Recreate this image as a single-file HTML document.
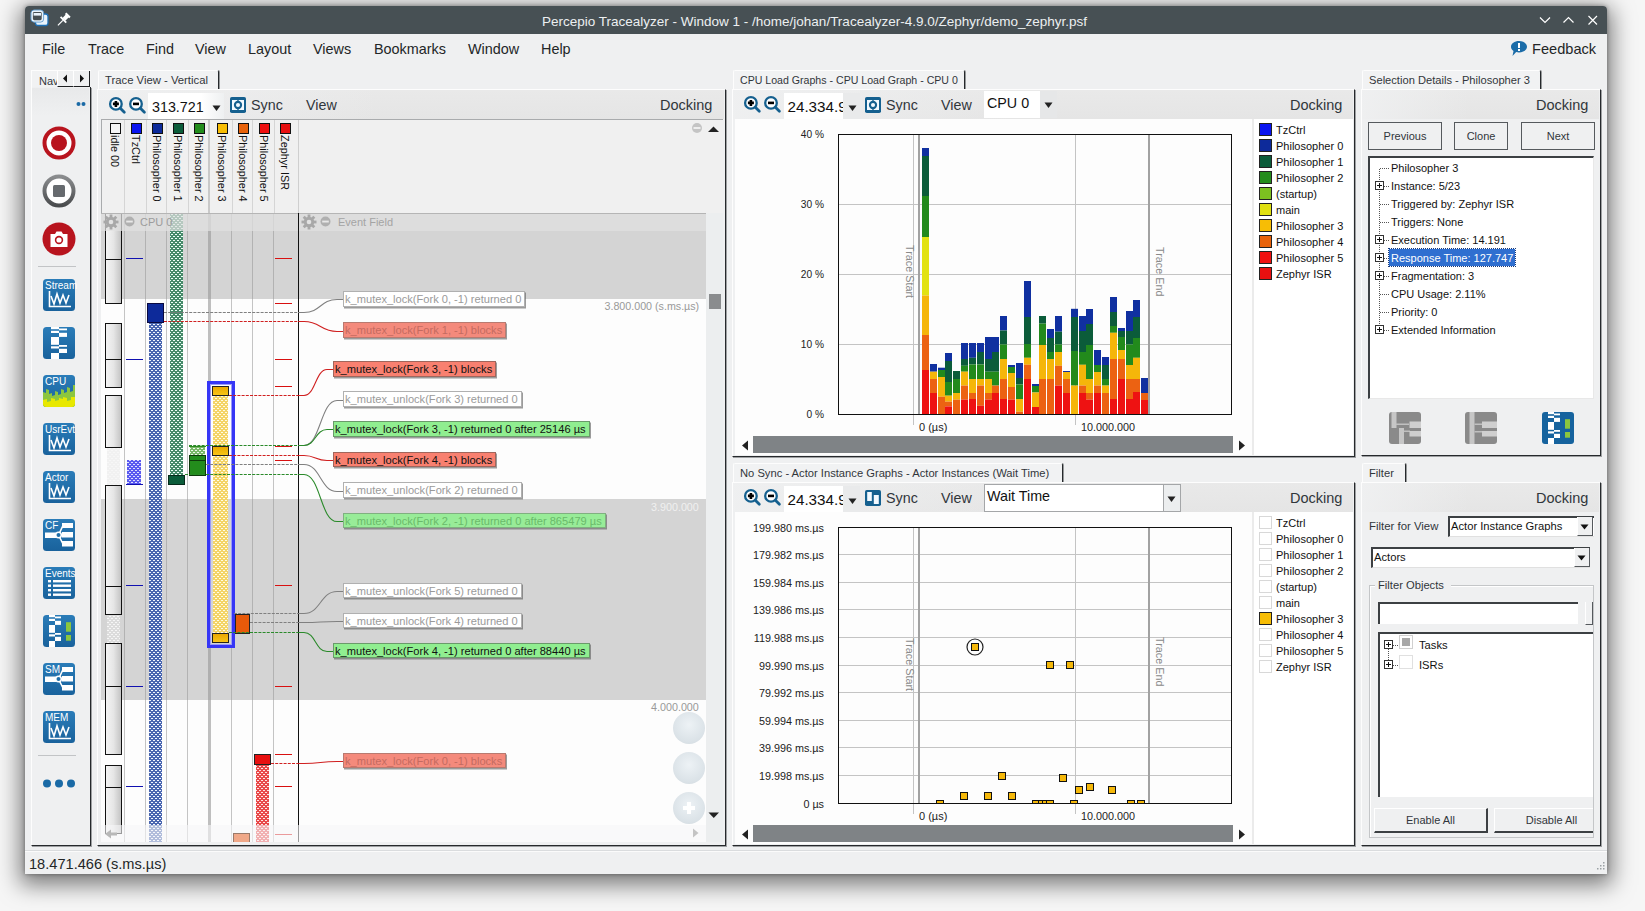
<!DOCTYPE html><html><head><meta charset="utf-8"><style>
*{margin:0;padding:0;box-sizing:border-box}
html,body{width:1645px;height:911px;overflow:hidden}
body{background:#f6f6f6;font-family:"Liberation Sans",sans-serif;position:relative;color:#232627}
.a{position:absolute}
.t{white-space:nowrap;line-height:1}
svg{position:absolute;overflow:visible}
</style></head><body>
<div class="a" style="left:25px;top:6px;width:1582px;height:868px;background:#eff0f1;border-radius:4px 4px 0 0;box-shadow:0 6px 22px 5px rgba(0,0,0,0.5),0 0 4px rgba(0,0,0,0.35)"></div>
<div class="a" style="left:25px;top:6px;width:1582px;height:28px;background:#475054;border-radius:4px 4px 0 0"></div>
<div class="a t" style="left:542px;top:15px;font-size:13.5px;color:#eceff1;">Percepio Tracealyzer - Window 1 - /home/johan/Tracealyzer-4.9.0/Zephyr/demo_zephyr.psf</div>
<svg style="left:30px;top:9px" width="20" height="18" viewBox="0 0 20 18">
<rect x="5.5" y="5" width="12.5" height="11.5" rx="2.5" fill="#eaf4fc" stroke="#1d6fb5" stroke-width="1.3"/>
<rect x="1.8" y="1.8" width="11" height="10.5" rx="2.5" fill="#475054" stroke="#eaf4fc" stroke-width="2.2"/>
<rect x="1" y="1" width="12.6" height="12.1" rx="3" fill="none" stroke="#1d6fb5" stroke-width="0.6"/>
<rect x="3.6" y="4" width="7.4" height="2.6" fill="#eaf4fc"/>
</svg>
<svg style="left:56px;top:12px" width="15" height="15" viewBox="0 0 15 15"><g transform="translate(7.2 8) rotate(45)">
<rect x="-3" y="-7.5" width="6" height="2" fill="#fff"/><rect x="-2" y="-6" width="4" height="5" fill="#fff"/><rect x="-4" y="-1.2" width="8" height="1.8" fill="#fff"/>
<rect x="-0.6" y="0.5" width="1.2" height="7" fill="#fff"/></g></svg>
<svg style="left:1539px;top:15px" width="60" height="11" viewBox="0 0 60 11">
<path d="M1 2.5 L6 7.5 L11 2.5" fill="none" stroke="#fff" stroke-width="1.2"/>
<path d="M24.5 7.5 L29.5 2.5 L34.5 7.5" fill="none" stroke="#fff" stroke-width="1.2"/>
<path d="M49.5 1 L58 9.5 M58 1 L49.5 9.5" fill="none" stroke="#fff" stroke-width="1.2"/>
</svg>
<div class="a t" style="left:42px;top:42px;font-size:14.4px;color:#232627;">File</div>
<div class="a t" style="left:88px;top:42px;font-size:14.4px;color:#232627;">Trace</div>
<div class="a t" style="left:146px;top:42px;font-size:14.4px;color:#232627;">Find</div>
<div class="a t" style="left:195px;top:42px;font-size:14.4px;color:#232627;">View</div>
<div class="a t" style="left:248px;top:42px;font-size:14.4px;color:#232627;">Layout</div>
<div class="a t" style="left:313px;top:42px;font-size:14.4px;color:#232627;">Views</div>
<div class="a t" style="left:374px;top:42px;font-size:14.4px;color:#232627;">Bookmarks</div>
<div class="a t" style="left:468px;top:42px;font-size:14.4px;color:#232627;">Window</div>
<div class="a t" style="left:541px;top:42px;font-size:14.4px;color:#232627;">Help</div>
<svg style="left:1510px;top:40px" width="18" height="17" viewBox="0 0 18 17">
<path d="M9 1 C13.5 1 17 3.5 17 6.8 C17 10 13.5 12.5 9 12.5 C8 12.5 7 12.4 6.2 12.1 L2.5 16 L3.5 11 C1.8 9.9 1 8.4 1 6.8 C1 3.5 4.5 1 9 1 Z" fill="#1b6ca8"/>
<rect x="8" y="3" width="2" height="5" fill="#fff"/><rect x="8" y="9" width="2" height="2" fill="#fff"/>
</svg>
<div class="a t" style="left:1532px;top:42px;font-size:14.6px;color:#232627;">Feedback</div>
<div class="a" style="left:25px;top:850px;width:1582px;height:1px;background:#dadcde"></div>
<div class="a" style="left:25px;top:851px;width:1582px;height:1px;background:#fbfbfb"></div>
<div class="a t" style="left:29px;top:857px;font-size:14.6px;color:#232627;">18.471.466 (s.ms.µs)</div>
<svg style="left:1594px;top:861px" width="12" height="12" viewBox="0 0 12 12" fill="#9aa0a4">
<rect x="9" y="1" width="1.5" height="1.5"/><rect x="6" y="4" width="1.5" height="1.5"/><rect x="9" y="4" width="1.5" height="1.5"/>
<rect x="3" y="7" width="1.5" height="1.5"/><rect x="6" y="7" width="1.5" height="1.5"/><rect x="9" y="7" width="1.5" height="1.5"/>
</svg>
<div class="a" style="left:31px;top:70px;width:60px;height:18px;background:#f1f2f3;border-top:1px solid #fdfdfd;border-left:1px solid #fdfdfd"></div>
<div class="a t" style="left:39px;top:76px;font-size:11px;color:#31363b;">Nav</div>
<div class="a" style="left:57px;top:71px;width:17px;height:16px;background:#eff0f1;border-left:1px solid #fff;border-right:1px solid #1e2022;border-bottom:1px solid #1e2022"></div>
<div class="a" style="left:73px;top:71px;width:17px;height:16px;background:#eff0f1;border-left:1px solid #fff;border-right:1px solid #1e2022;border-bottom:1px solid #1e2022"></div>
<svg style="left:61px;top:74px" width="30" height="10"><path d="M6 0.5 L2 4.5 L6 8.5Z" fill="#111"/><path d="M19 0.5 L23 4.5 L19 8.5Z" fill="#111"/></svg>
<div class="a" style="left:31px;top:87px;width:60px;height:759px;border-left:1px solid #fdfdfd;border-right:1px solid #26292c;border-bottom:1px solid #26292c;box-shadow:1px 1px 0 rgba(60,63,66,0.45);background:#eff0f1"></div>
<div class="a" style="left:32px;top:88px;width:57px;height:28px;background:linear-gradient(#e8e9ea,#eff0f1)"></div>
<div class="a" style="left:98px;top:70px;width:121px;height:19px;background:#f1f2f3;border-top:1px solid #fdfdfd;border-left:1px solid #fdfdfd;border-right:1px solid #26292c;box-shadow:1px 0 0 rgba(60,63,66,0.5);border-radius:2px 2px 0 0"></div>
<div class="a t" style="left:105px;top:75px;font-size:11.3px;color:#31363b;">Trace View - Vertical</div>
<div class="a" style="left:97px;top:89px;width:629px;height:757px;border-top:1px solid #fdfdfd;border-left:1px solid #fdfdfd;border-right:1px solid #26292c;border-bottom:1px solid #26292c;box-shadow:1px 1px 0 rgba(60,63,66,0.45);background:#eff0f1"></div>
<div class="a" style="left:98px;top:90px;width:626px;height:29px;background:linear-gradient(90deg,rgba(240,241,242,0.85),rgba(240,241,242,0) 45%),linear-gradient(#e9e9e9,#e5e5e5)"></div>
<div class="a" style="left:733px;top:70px;width:232px;height:19px;background:#f1f2f3;border-top:1px solid #fdfdfd;border-left:1px solid #fdfdfd;border-right:1px solid #26292c;box-shadow:1px 0 0 rgba(60,63,66,0.5);border-radius:2px 2px 0 0"></div>
<div class="a t" style="left:740px;top:75px;font-size:10.6px;color:#31363b;">CPU Load Graphs - CPU Load Graph - CPU 0</div>
<div class="a" style="left:732px;top:89px;width:623px;height:368px;border-top:1px solid #fdfdfd;border-left:1px solid #fdfdfd;border-right:1px solid #26292c;border-bottom:1px solid #26292c;box-shadow:1px 1px 0 rgba(60,63,66,0.45);background:#eff0f1"></div>
<div class="a" style="left:733px;top:90px;width:620px;height:29px;background:linear-gradient(90deg,rgba(240,241,242,0.85),rgba(240,241,242,0) 45%),linear-gradient(#e9e9e9,#e5e5e5)"></div>
<div class="a" style="left:733px;top:463px;width:330px;height:19px;background:#f1f2f3;border-top:1px solid #fdfdfd;border-left:1px solid #fdfdfd;border-right:1px solid #26292c;box-shadow:1px 0 0 rgba(60,63,66,0.5);border-radius:2px 2px 0 0"></div>
<div class="a t" style="left:740px;top:468px;font-size:11.2px;color:#31363b;">No Sync - Actor Instance Graphs - Actor Instances (Wait Time)</div>
<div class="a" style="left:732px;top:482px;width:623px;height:364px;border-top:1px solid #fdfdfd;border-left:1px solid #fdfdfd;border-right:1px solid #26292c;border-bottom:1px solid #26292c;box-shadow:1px 1px 0 rgba(60,63,66,0.45);background:#eff0f1"></div>
<div class="a" style="left:733px;top:483px;width:620px;height:29px;background:linear-gradient(90deg,rgba(240,241,242,0.85),rgba(240,241,242,0) 45%),linear-gradient(#e9e9e9,#e5e5e5)"></div>
<div class="a" style="left:1362px;top:70px;width:179px;height:19px;background:#f1f2f3;border-top:1px solid #fdfdfd;border-left:1px solid #fdfdfd;border-right:1px solid #26292c;box-shadow:1px 0 0 rgba(60,63,66,0.5);border-radius:2px 2px 0 0"></div>
<div class="a t" style="left:1369px;top:75px;font-size:11.15px;color:#31363b;">Selection Details - Philosopher 3</div>
<div class="a" style="left:1361px;top:89px;width:240px;height:367px;border-top:1px solid #fdfdfd;border-left:1px solid #fdfdfd;border-right:1px solid #26292c;border-bottom:1px solid #26292c;box-shadow:1px 1px 0 rgba(60,63,66,0.45);background:#eff0f1"></div>
<div class="a" style="left:1362px;top:90px;width:237px;height:29px;background:linear-gradient(90deg,rgba(240,241,242,0.85),rgba(240,241,242,0) 45%),linear-gradient(#e9e9e9,#e5e5e5)"></div>
<div class="a" style="left:1362px;top:463px;width:44px;height:19px;background:#f1f2f3;border-top:1px solid #fdfdfd;border-left:1px solid #fdfdfd;border-right:1px solid #26292c;box-shadow:1px 0 0 rgba(60,63,66,0.5);border-radius:2px 2px 0 0"></div>
<div class="a t" style="left:1369px;top:468px;font-size:11.2px;color:#31363b;">Filter</div>
<div class="a" style="left:1361px;top:482px;width:240px;height:364px;border-top:1px solid #fdfdfd;border-left:1px solid #fdfdfd;border-right:1px solid #26292c;border-bottom:1px solid #26292c;box-shadow:1px 1px 0 rgba(60,63,66,0.45);background:#eff0f1"></div>
<div class="a" style="left:1362px;top:483px;width:237px;height:29px;background:linear-gradient(90deg,rgba(240,241,242,0.85),rgba(240,241,242,0) 45%),linear-gradient(#e9e9e9,#e5e5e5)"></div>
<div class="a t" style="left:660px;top:98px;font-size:14.5px;color:#31363b;">Docking</div>
<div class="a t" style="left:1290px;top:98px;font-size:14.5px;color:#31363b;">Docking</div>
<div class="a t" style="left:1536px;top:98px;font-size:14.5px;color:#31363b;">Docking</div>
<div class="a t" style="left:1290px;top:491px;font-size:14.5px;color:#31363b;">Docking</div>
<div class="a t" style="left:1536px;top:491px;font-size:14.5px;color:#31363b;">Docking</div>
<svg style="left:109px;top:97px" width="40" height="18" viewBox="0 0 40 18">
<circle cx="6.9" cy="6.9" r="5.8" fill="#fff" stroke="#15608f" stroke-width="2.3"/><path d="M11.3 11.3 L15.3 15.3" stroke="#15608f" stroke-width="2.8" stroke-linecap="round"/>
<path d="M3.9 6.9 H9.9 M6.9 3.9 V9.9" stroke="#000" stroke-width="2.6"/>
<circle cx="27" cy="6.9" r="5.8" fill="#fff" stroke="#15608f" stroke-width="2.3"/><path d="M31.4 11.3 L35.4 15.3" stroke="#15608f" stroke-width="2.8" stroke-linecap="round"/>
<path d="M24 6.9 H30" stroke="#000" stroke-width="2.6"/>
</svg>
<div class="a" style="left:148px;top:93px;width:76px;height:26px;background:linear-gradient(90deg,#fff 0%,#fff 70%,#eef0f1 100%)"></div>
<div class="a t" style="left:152px;top:100px;font-size:14.3px;color:#111;">313.721</div>
<svg style="left:212px;top:105px" width="9" height="6"><path d="M0.5 0.5 H8.5 L4.5 6Z" fill="#222"/></svg>
<svg style="left:230px;top:97px" width="16" height="16" viewBox="0 0 16 16"><rect x="0" y="0" width="16" height="16" rx="1.8" fill="#15608f"/>
<rect x="2" y="3" width="12" height="10" fill="#f2f9ff"/><path d="M8 3 V13" stroke="#15608f" stroke-width="1.3"/><circle cx="8" cy="8" r="3.1" fill="#f2f9ff" stroke="#15608f" stroke-width="2.1"/></svg>
<div class="a t" style="left:251px;top:98px;font-size:14.3px;color:#31363b;">Sync</div>
<div class="a t" style="left:306px;top:98px;font-size:14.3px;color:#31363b;">View</div>
<div class="a" style="left:101px;top:119px;width:622px;height:94px;background:#f0f0f0;border-top:1px solid #a9abad;border-left:1px solid #a9abad"></div>
<div class="a" style="left:124px;top:120px;width:1px;height:93px;background:#d5d5d5"></div>
<div class="a" style="left:146px;top:120px;width:1px;height:93px;background:#d5d5d5"></div>
<div class="a" style="left:166px;top:120px;width:1px;height:93px;background:#d5d5d5"></div>
<div class="a" style="left:188px;top:120px;width:1px;height:93px;background:#d5d5d5"></div>
<div class="a" style="left:232px;top:120px;width:1px;height:93px;background:#d5d5d5"></div>
<div class="a" style="left:252px;top:120px;width:1px;height:93px;background:#d5d5d5"></div>
<div class="a" style="left:274px;top:120px;width:1px;height:93px;background:#d5d5d5"></div>
<div class="a" style="left:208px;top:120px;width:2px;height:93px;background:#c9c9c9"></div>
<div class="a" style="left:298px;top:120px;width:1px;height:93px;background:#cfcfcf"></div>
<div class="a" style="left:110px;top:123px;width:11px;height:11px;background:#f6f6f6;border:1px solid #111"></div>
<div class="a t" style="left:121px;top:135px;font-size:10.9px;margin-left:-1px;color:#111;transform-origin:0 0;transform:rotate(90deg)">idle 00</div>
<div class="a" style="left:131px;top:123px;width:11px;height:11px;background:#0a14f0;border:1px solid #111"></div>
<div class="a t" style="left:142px;top:135px;font-size:10.9px;margin-left:-1px;color:#111;transform-origin:0 0;transform:rotate(90deg)">TzCtrl</div>
<div class="a" style="left:152px;top:123px;width:11px;height:11px;background:#0d2a9a;border:1px solid #111"></div>
<div class="a t" style="left:163px;top:135px;font-size:10.9px;margin-left:-1px;color:#111;transform-origin:0 0;transform:rotate(90deg)">Philosopher 0</div>
<div class="a" style="left:173px;top:123px;width:11px;height:11px;background:#0b5c3a;border:1px solid #111"></div>
<div class="a t" style="left:184px;top:135px;font-size:10.9px;margin-left:-1px;color:#111;transform-origin:0 0;transform:rotate(90deg)">Philosopher 1</div>
<div class="a" style="left:194px;top:123px;width:11px;height:11px;background:#238c1c;border:1px solid #111"></div>
<div class="a t" style="left:205px;top:135px;font-size:10.9px;margin-left:-1px;color:#111;transform-origin:0 0;transform:rotate(90deg)">Philosopher 2</div>
<div class="a" style="left:217px;top:123px;width:11px;height:11px;background:#f7bd05;border:1px solid #111"></div>
<div class="a t" style="left:228px;top:135px;font-size:10.9px;margin-left:-1px;color:#111;transform-origin:0 0;transform:rotate(90deg)">Philosopher 3</div>
<div class="a" style="left:238px;top:123px;width:11px;height:11px;background:#e8620a;border:1px solid #111"></div>
<div class="a t" style="left:249px;top:135px;font-size:10.9px;margin-left:-1px;color:#111;transform-origin:0 0;transform:rotate(90deg)">Philosopher 4</div>
<div class="a" style="left:259px;top:123px;width:11px;height:11px;background:#f01010;border:1px solid #111"></div>
<div class="a t" style="left:270px;top:135px;font-size:10.9px;margin-left:-1px;color:#111;transform-origin:0 0;transform:rotate(90deg)">Philosopher 5</div>
<div class="a" style="left:280px;top:123px;width:11px;height:11px;background:#e81010;border:1px solid #111"></div>
<div class="a t" style="left:291px;top:135px;font-size:10.9px;margin-left:-1px;color:#111;transform-origin:0 0;transform:rotate(90deg)">Zephyr ISR</div>
<svg style="left:691px;top:122px" width="30" height="12"><circle cx="6" cy="6" r="5" fill="#c4c4c4"/><rect x="2.5" y="5" width="7" height="2" fill="#eee"/><path d="M17 10 L22.5 4.5 L28 10Z" fill="#222"/></svg>
<div class="a" style="left:101px;top:213px;width:605px;height:629px;background:#fdfdfd"></div>
<div class="a" style="left:101px;top:213px;width:605px;height:86px;background:#d4d4d4"></div>
<div class="a" style="left:101px;top:499px;width:605px;height:201px;background:#d4d4d4"></div>
<div class="a" style="left:124px;top:213px;width:1px;height:629px;background:rgba(150,150,150,0.55)"></div>
<div class="a" style="left:145px;top:213px;width:1px;height:629px;background:rgba(150,150,150,0.55)"></div>
<div class="a" style="left:166px;top:213px;width:1px;height:629px;background:rgba(150,150,150,0.55)"></div>
<div class="a" style="left:187px;top:213px;width:1px;height:629px;background:rgba(150,150,150,0.55)"></div>
<div class="a" style="left:231px;top:213px;width:1px;height:629px;background:rgba(150,150,150,0.55)"></div>
<div class="a" style="left:252px;top:213px;width:1px;height:629px;background:rgba(150,150,150,0.55)"></div>
<div class="a" style="left:273px;top:213px;width:1px;height:629px;background:rgba(150,150,150,0.55)"></div>
<div class="a" style="left:208px;top:213px;width:3px;height:629px;background:rgba(150,150,150,0.6)"></div>
<div class="a" style="left:298px;top:213px;width:1px;height:629px;background:#111"></div>
<svg style="left:0;top:0" width="720" height="850"><defs><pattern id="p0" width="4" height="4" patternUnits="userSpaceOnUse"><rect width="4" height="4" fill="#f1f1f1"/><rect x="1" y="0" width="2" height="1" fill="#f7f7f7"/><rect x="3" y="2" width="2" height="1" fill="#f7f7f7"/><rect x="-1" y="2" width="2" height="1" fill="#f7f7f7"/></pattern><pattern id="p1" width="4" height="4" patternUnits="userSpaceOnUse"><rect width="4" height="4" fill="#dcdcdc"/><rect x="1" y="0" width="2" height="1" fill="#f6f6f6"/><rect x="3" y="2" width="2" height="1" fill="#f6f6f6"/><rect x="-1" y="2" width="2" height="1" fill="#f6f6f6"/></pattern><pattern id="p2" width="4" height="4" patternUnits="userSpaceOnUse"><rect width="4" height="4" fill="#5a5af0"/><rect x="1" y="0" width="2" height="1" fill="#e0e0ff"/><rect x="3" y="2" width="2" height="1" fill="#e0e0ff"/><rect x="-1" y="2" width="2" height="1" fill="#e0e0ff"/></pattern><pattern id="p3" width="4" height="4" patternUnits="userSpaceOnUse"><rect width="4" height="4" fill="#4a66b0"/><rect x="1" y="0" width="2" height="1" fill="#f4f8ff"/><rect x="3" y="2" width="2" height="1" fill="#f4f8ff"/><rect x="-1" y="2" width="2" height="1" fill="#f4f8ff"/></pattern><pattern id="p4" width="4" height="4" patternUnits="userSpaceOnUse"><rect width="4" height="4" fill="#468a6a"/><rect x="1" y="0" width="2" height="1" fill="#eefff8"/><rect x="3" y="2" width="2" height="1" fill="#eefff8"/><rect x="-1" y="2" width="2" height="1" fill="#eefff8"/></pattern><pattern id="p5" width="4" height="4" patternUnits="userSpaceOnUse"><rect width="4" height="4" fill="#78b868"/><rect x="1" y="0" width="2" height="1" fill="#eef8ea"/><rect x="3" y="2" width="2" height="1" fill="#eef8ea"/><rect x="-1" y="2" width="2" height="1" fill="#eef8ea"/></pattern><pattern id="p6" width="4" height="4" patternUnits="userSpaceOnUse"><rect width="4" height="4" fill="#f4d466"/><rect x="1" y="0" width="2" height="1" fill="#fffbe4"/><rect x="3" y="2" width="2" height="1" fill="#fffbe4"/><rect x="-1" y="2" width="2" height="1" fill="#fffbe4"/></pattern><pattern id="p7" width="4" height="4" patternUnits="userSpaceOnUse"><rect width="4" height="4" fill="#e84848"/><rect x="1" y="0" width="2" height="1" fill="#ffe4e4"/><rect x="3" y="2" width="2" height="1" fill="#ffe4e4"/><rect x="-1" y="2" width="2" height="1" fill="#ffe4e4"/></pattern></defs><rect x="107" y="447" width="13" height="38" fill="url(#p0)"/><rect x="107" y="614" width="13" height="29" fill="url(#p1)"/><rect x="127" y="460" width="14" height="24" fill="url(#p2)"/><rect x="149" y="323" width="13" height="519" fill="url(#p3)"/><rect x="170" y="213" width="13" height="262" fill="url(#p4)"/><rect x="190" y="447" width="15" height="8" fill="url(#p5)"/><rect x="213" y="396" width="15" height="237" fill="url(#p6)"/><rect x="256" y="765" width="13" height="77" fill="url(#p7)"/></svg>
<div class="a" style="left:105px;top:213px;width:17px;height:47px;border:1.5px solid #111;background:linear-gradient(90deg,#f4f4f4,#e6e6e6 50%,#c4c4c4);border-top:none"></div>
<div class="a" style="left:105px;top:259px;width:17px;height:45px;border:1.5px solid #111;background:linear-gradient(90deg,#f4f4f4,#e6e6e6 50%,#c4c4c4)"></div>
<div class="a" style="left:105px;top:323px;width:17px;height:37px;border:1.5px solid #111;background:linear-gradient(90deg,#f4f4f4,#e6e6e6 50%,#c4c4c4)"></div>
<div class="a" style="left:105px;top:359px;width:17px;height:29px;border:1.5px solid #111;background:linear-gradient(90deg,#f4f4f4,#e6e6e6 50%,#c4c4c4)"></div>
<div class="a" style="left:105px;top:395px;width:17px;height:53px;border:1.5px solid #111;background:linear-gradient(90deg,#f4f4f4,#e6e6e6 50%,#c4c4c4)"></div>
<div class="a" style="left:105px;top:485px;width:17px;height:102px;border:1.5px solid #111;background:linear-gradient(90deg,#f4f4f4,#e6e6e6 50%,#c4c4c4)"></div>
<div class="a" style="left:105px;top:586px;width:17px;height:29px;border:1.5px solid #111;background:linear-gradient(90deg,#f4f4f4,#e6e6e6 50%,#c4c4c4)"></div>
<div class="a" style="left:105px;top:643px;width:17px;height:44px;border:1.5px solid #111;background:linear-gradient(90deg,#f4f4f4,#e6e6e6 50%,#c4c4c4)"></div>
<div class="a" style="left:105px;top:686px;width:17px;height:69px;border:1.5px solid #111;background:linear-gradient(90deg,#f4f4f4,#e6e6e6 50%,#c4c4c4)"></div>
<div class="a" style="left:105px;top:765px;width:17px;height:23px;border:1.5px solid #111;background:linear-gradient(90deg,#f4f4f4,#e6e6e6 50%,#c4c4c4)"></div>
<div class="a" style="left:105px;top:787px;width:17px;height:47px;border:1.5px solid #111;background:linear-gradient(90deg,#f4f4f4,#e6e6e6 50%,#c4c4c4)"></div>
<div class="a" style="left:126px;top:258px;width:17px;height:1px;background:#1010b0"></div>
<div class="a" style="left:126px;top:359px;width:17px;height:1px;background:#1010b0"></div>
<div class="a" style="left:126px;top:585px;width:17px;height:1px;background:#1010b0"></div>
<div class="a" style="left:126px;top:686px;width:17px;height:1px;background:#1010b0"></div>
<div class="a" style="left:126px;top:786px;width:17px;height:1px;background:#1010b0"></div>
<div class="a" style="left:126px;top:484px;width:17px;height:1px;background:#1010b0"></div>
<div class="a" style="left:147px;top:303px;width:17px;height:20px;background:#0d2a9a;border:1px solid #0a0a40"></div>
<div class="a" style="left:168px;top:475px;width:17px;height:10px;background:#0b5c3a;border:1px solid #062a1a"></div>
<div class="a" style="left:189px;top:446px;width:17px;height:1px;background:#2a8a1e"></div>
<div class="a" style="left:189px;top:455px;width:17px;height:21px;background:#238c1c;border:1px solid #0d3a0a"></div>
<div class="a" style="left:189px;top:460px;width:17px;height:1px;background:#0d3a0a"></div>
<div class="a" style="left:207px;top:381px;width:28px;height:267px;border:3px solid #3636f6;background:transparent;box-shadow:inset 0 0 0 1px #9a9af8"></div>
<div class="a" style="left:212px;top:386px;width:17px;height:10px;background:linear-gradient(#eaa800,#f8c418);border:1px solid #222"></div>
<div class="a" style="left:212px;top:446px;width:17px;height:10px;background:linear-gradient(#eaa800,#f8c418);border:1px solid #222"></div>
<div class="a" style="left:212px;top:633px;width:17px;height:10px;background:linear-gradient(#eaa800,#f8c418);border:1px solid #222"></div>
<div class="a" style="left:235px;top:614px;width:15px;height:20px;background:#e85a0a;border:1px solid #222"></div>
<div class="a" style="left:254px;top:754px;width:17px;height:11px;background:#e81010;border:1px solid #222"></div>
<div class="a" style="left:275px;top:258px;width:17px;height:1px;background:#d81010"></div>
<div class="a" style="left:275px;top:303px;width:17px;height:1px;background:#d81010"></div>
<div class="a" style="left:275px;top:359px;width:17px;height:1px;background:#d81010"></div>
<div class="a" style="left:275px;top:386px;width:17px;height:1px;background:#d81010"></div>
<div class="a" style="left:275px;top:446px;width:17px;height:1px;background:#d81010"></div>
<div class="a" style="left:275px;top:460px;width:17px;height:1px;background:#d81010"></div>
<div class="a" style="left:275px;top:585px;width:17px;height:1px;background:#d81010"></div>
<div class="a" style="left:275px;top:686px;width:17px;height:1px;background:#d81010"></div>
<div class="a" style="left:275px;top:754px;width:17px;height:1px;background:#d81010"></div>
<div class="a" style="left:275px;top:786px;width:17px;height:1px;background:#d81010"></div>
<div class="a" style="left:275px;top:834px;width:17px;height:1px;background:#d81010"></div>
<div class="a" style="left:101px;top:213px;width:605px;height:18px;background:rgba(225,225,225,0.72);border-top:1px solid #b5b5b5"></div>
<div class="a" style="left:298px;top:213px;width:1px;height:18px;background:#111"></div>
<svg style="left:103px;top:214px" width="16" height="16" viewBox="0 0 16 16"><g fill="#a8a8a8">
<circle cx="8" cy="8" r="5.2"/><rect x="6.6" y="0.5" width="2.8" height="15"/><rect x="0.5" y="6.6" width="15" height="2.8"/>
<rect x="6.6" y="0.5" width="2.8" height="15" transform="rotate(45 8 8)"/><rect x="6.6" y="0.5" width="2.8" height="15" transform="rotate(-45 8 8)"/></g>
<circle cx="8" cy="8" r="2.3" fill="#e2e2e2"/></svg>
<svg style="left:124px;top:216px" width="11" height="11"><circle cx="5.5" cy="5.5" r="5" fill="#b0b0b0"/><rect x="2.2" y="4.6" width="6.6" height="1.9" fill="#e8e8e8"/></svg>
<div class="a t" style="left:140px;top:217px;font-size:11px;color:#9c9c9c;">CPU 0</div>
<svg style="left:301px;top:214px" width="16" height="16" viewBox="0 0 16 16"><g fill="#a8a8a8">
<circle cx="8" cy="8" r="5.2"/><rect x="6.6" y="0.5" width="2.8" height="15"/><rect x="0.5" y="6.6" width="15" height="2.8"/>
<rect x="6.6" y="0.5" width="2.8" height="15" transform="rotate(45 8 8)"/><rect x="6.6" y="0.5" width="2.8" height="15" transform="rotate(-45 8 8)"/></g>
<circle cx="8" cy="8" r="2.3" fill="#e2e2e2"/></svg>
<svg style="left:320px;top:216px" width="11" height="11"><circle cx="5.5" cy="5.5" r="5" fill="#b0b0b0"/><rect x="2.2" y="4.6" width="6.6" height="1.9" fill="#e8e8e8"/></svg>
<div class="a t" style="left:338px;top:217px;font-size:11px;color:#a4a4a4;">Event Field</div>
<div class="a t" style="left:604.5px;top:301px;font-size:10.7px;color:#999;">3.800.000 (s.ms.µs)</div>
<div class="a t" style="left:651px;top:501.5px;font-size:10.75px;color:#f0f0f0;">3.900.000</div>
<div class="a t" style="left:651px;top:702px;font-size:10.75px;color:#999;">4.000.000</div>
<svg style="left:0;top:0" width="720" height="850" viewBox="0 0 720 850"><path d="M164 312.5 H298" stroke="#808080" stroke-width="1" stroke-dasharray="3 1.2" fill="none"/><path d="M298 312.5 H304 C320.5 312.5 320.5 299.5 337 299.5 H343" stroke="#808080" stroke-width="1.1" fill="none"/><path d="M164 321.5 H298" stroke="#d02020" stroke-width="1" stroke-dasharray="3 1.2" fill="none"/><path d="M298 321.5 H304 C320.5 321.5 320.5 331.5 337 331.5 H343" stroke="#d02020" stroke-width="1.1" fill="none"/><path d="M229 395.5 H298" stroke="#d02020" stroke-width="1" stroke-dasharray="3 1.2" fill="none"/><path d="M298 395.5 H304 C315.5 395.5 315.5 369.5 327 369.5 H333" stroke="#d02020" stroke-width="1.1" fill="none"/><path d="M298 445.5 H304 C320.5 445.5 320.5 400.5 337 400.5 H343" stroke="#808080" stroke-width="1.1" fill="none"/><path d="M189 445.5 H298" stroke="#2a8a2a" stroke-width="1" stroke-dasharray="3 1.2" fill="none"/><path d="M298 445.5 H304 C315.5 445.5 315.5 429.5 327 429.5 H333" stroke="#2a8a2a" stroke-width="1.1" fill="none"/><path d="M229 455.5 H298" stroke="#d02020" stroke-width="1" stroke-dasharray="3 1.2" fill="none"/><path d="M298 455.5 H304 C315.5 455.5 315.5 460.5 327 460.5 H333" stroke="#d02020" stroke-width="1.1" fill="none"/><path d="M206 464.5 H298" stroke="#808080" stroke-width="1" stroke-dasharray="3 1.2" fill="none"/><path d="M298 464.5 H304 C320.5 464.5 320.5 491.5 337 491.5 H343" stroke="#808080" stroke-width="1.1" fill="none"/><path d="M185 474.5 H298" stroke="#2a8a2a" stroke-width="1" stroke-dasharray="3 1.2" fill="none"/><path d="M298 474.5 H304 C320.5 474.5 320.5 521.5 337 521.5 H343" stroke="#2a8a2a" stroke-width="1.1" fill="none"/><path d="M234 613.5 H298" stroke="#808080" stroke-width="1" stroke-dasharray="3 1.2" fill="none"/><path d="M298 613.5 H304 C320.5 613.5 320.5 591.5 337 591.5 H343" stroke="#808080" stroke-width="1.1" fill="none"/><path d="M250 622.5 H298" stroke="#808080" stroke-width="1" stroke-dasharray="3 1.2" fill="none"/><path d="M298 622.5 H304 C320.5 622.5 320.5 621.5 337 621.5 H343" stroke="#808080" stroke-width="1.1" fill="none"/><path d="M229 632.5 H298" stroke="#2a8a2a" stroke-width="1" stroke-dasharray="3 1.2" fill="none"/><path d="M298 632.5 H304 C315.5 632.5 315.5 651.5 327 651.5 H333" stroke="#2a8a2a" stroke-width="1.1" fill="none"/><path d="M271 763.5 H298" stroke="#d02020" stroke-width="1" stroke-dasharray="3 1.2" fill="none"/><path d="M298 763.5 H304 C320.5 763.5 320.5 761.5 337 761.5 H343" stroke="#d02020" stroke-width="1.1" fill="none"/></svg>
<div class="a t" style="left:342.5px;top:291px;height:15.5px;padding:2px 3px 0 1.5px;font-size:11.1px;background:#ffffff;color:#9a9a9a;border:1px solid #b0b0b0;box-shadow:1px 1.5px 0 rgba(90,90,90,0.6)">k_mutex_lock(Fork 0, -1) returned 0</div>
<div class="a t" style="left:342.5px;top:322px;height:15.5px;padding:2px 3px 0 1.5px;font-size:11.1px;background:#f48a7c;color:#c46a60;border:1px solid #b87a70;box-shadow:1px 1.5px 0 rgba(90,90,90,0.6)">k_mutex_lock(Fork 1, -1) blocks</div>
<div class="a t" style="left:332.5px;top:361px;height:15.5px;padding:2px 3px 0 1.5px;font-size:11.1px;background:#f88070;color:#111111;border:1px solid #a0665c;box-shadow:1px 1.5px 0 rgba(90,90,90,0.6)">k_mutex_lock(Fork 3, -1) blocks</div>
<div class="a t" style="left:342.5px;top:391px;height:15.5px;padding:2px 3px 0 1.5px;font-size:11.1px;background:#ffffff;color:#9a9a9a;border:1px solid #b0b0b0;box-shadow:1px 1.5px 0 rgba(90,90,90,0.6)">k_mutex_unlock(Fork 3) returned 0</div>
<div class="a t" style="left:332.5px;top:421px;height:15.5px;padding:2px 3px 0 1.5px;font-size:11.1px;background:#90ee90;color:#111111;border:1px solid #6a9a6a;box-shadow:1px 1.5px 0 rgba(90,90,90,0.6)">k_mutex_lock(Fork 3, -1) returned 0 after 25146 µs</div>
<div class="a t" style="left:332.5px;top:451.5px;height:15.5px;padding:2px 3px 0 1.5px;font-size:11.1px;background:#f88070;color:#111111;border:1px solid #a0665c;box-shadow:1px 1.5px 0 rgba(90,90,90,0.6)">k_mutex_lock(Fork 4, -1) blocks</div>
<div class="a t" style="left:342.5px;top:482px;height:15.5px;padding:2px 3px 0 1.5px;font-size:11.1px;background:#ffffff;color:#9a9a9a;border:1px solid #b0b0b0;box-shadow:1px 1.5px 0 rgba(90,90,90,0.6)">k_mutex_unlock(Fork 2) returned 0</div>
<div class="a t" style="left:342.5px;top:512.5px;height:15.5px;padding:2px 3px 0 1.5px;font-size:11.1px;background:#98ec98;color:#6aba6a;border:1px solid #80b080;box-shadow:1px 1.5px 0 rgba(90,90,90,0.6)">k_mutex_lock(Fork 2, -1) returned 0 after 865479 µs</div>
<div class="a t" style="left:342.5px;top:582.5px;height:15.5px;padding:2px 3px 0 1.5px;font-size:11.1px;background:#ffffff;color:#9a9a9a;border:1px solid #b0b0b0;box-shadow:1px 1.5px 0 rgba(90,90,90,0.6)">k_mutex_unlock(Fork 5) returned 0</div>
<div class="a t" style="left:342.5px;top:612.5px;height:15.5px;padding:2px 3px 0 1.5px;font-size:11.1px;background:#ffffff;color:#9a9a9a;border:1px solid #b0b0b0;box-shadow:1px 1.5px 0 rgba(90,90,90,0.6)">k_mutex_unlock(Fork 4) returned 0</div>
<div class="a t" style="left:332.5px;top:642.5px;height:15.5px;padding:2px 3px 0 1.5px;font-size:11.1px;background:#90ee90;color:#111111;border:1px solid #6a9a6a;box-shadow:1px 1.5px 0 rgba(90,90,90,0.6)">k_mutex_lock(Fork 4, -1) returned 0 after 88440 µs</div>
<div class="a t" style="left:342.5px;top:752.5px;height:15.5px;padding:2px 3px 0 1.5px;font-size:11.1px;background:#f48a7c;color:#c46a60;border:1px solid #b87a70;box-shadow:1px 1.5px 0 rgba(90,90,90,0.6)">k_mutex_lock(Fork 0, -1) blocks</div>
<div class="a" style="left:706px;top:213px;width:17px;height:629px;background:#eceeef"></div>
<div class="a" style="left:709px;top:294px;width:12px;height:15px;background:#8a8c8e"></div>
<div class="a" style="left:101px;top:825px;width:605px;height:17px;background:rgba(246,247,248,0.6)"></div>
<div class="a" style="left:233px;top:833px;width:17px;height:9px;background:#f0a888;border:1px solid #9a7a6a;border-bottom:none"></div>
<svg style="left:104px;top:828px" width="14" height="12"><path d="M1 6 L7 1.5 L7 4.5 L13 4.5 L13 7.5 L7 7.5 L7 10.5Z" fill="#b8b8b8"/></svg>
<svg style="left:692px;top:828px" width="8" height="10"><path d="M1 0.5 L6.5 5 L1 9.5Z" fill="#c4c4c4"/></svg>
<svg style="left:708px;top:812px" width="12" height="7"><path d="M0.5 0.5 H11 L5.75 6Z" fill="#222"/></svg>
<div class="a" style="left:673px;top:712px;width:32px;height:32px;border-radius:50%;background:radial-gradient(circle at 50% 40%,#eaf0f4,#d4dde3 70%,#c6ced4);opacity:0.85"></div>
<div class="a" style="left:673px;top:752px;width:32px;height:32px;border-radius:50%;background:radial-gradient(circle at 50% 40%,#eaf0f4,#d4dde3 70%,#c6ced4);opacity:0.85"></div>
<div class="a" style="left:673px;top:792px;width:32px;height:32px;border-radius:50%;background:radial-gradient(circle at 50% 40%,#eaf0f4,#d4dde3 70%,#c6ced4);opacity:0.85"></div>
<svg style="left:681px;top:800px" width="16" height="16"><path d="M8 2 V14 M2 8 H14" stroke="#fff" stroke-width="4"/></svg>
<svg style="left:744px;top:96px" width="40" height="18" viewBox="0 0 40 18">
<circle cx="6.9" cy="6.9" r="5.8" fill="#fff" stroke="#15608f" stroke-width="2.3"/><path d="M11.3 11.3 L15.3 15.3" stroke="#15608f" stroke-width="2.8" stroke-linecap="round"/>
<path d="M3.9 6.9 H9.9 M6.9 3.9 V9.9" stroke="#000" stroke-width="2.6"/>
<circle cx="27" cy="6.9" r="5.8" fill="#fff" stroke="#15608f" stroke-width="2.3"/><path d="M31.4 11.3 L35.4 15.3" stroke="#15608f" stroke-width="2.8" stroke-linecap="round"/>
<path d="M24 6.9 H30" stroke="#000" stroke-width="2.6"/>
</svg>
<div class="a" style="left:784px;top:93px;width:76px;height:26px;background:#e9eaeb"></div>
<div class="a t" style="left:784px;top:93px;width:59px;height:26px;background:#fff;overflow:hidden;font-size:15.2px;color:#111;padding:5.5px 0 0 3.5px">24.334.9</div>
<svg style="left:848px;top:105px" width="9" height="6"><path d="M0.5 0.5 H8.5 L4.5 6Z" fill="#222"/></svg>
<svg style="left:865px;top:97px" width="16" height="16" viewBox="0 0 16 16"><rect x="0" y="0" width="16" height="16" rx="1.8" fill="#15608f"/>
<rect x="2" y="3" width="12" height="10" fill="#f2f9ff"/><path d="M8 3 V13" stroke="#15608f" stroke-width="1.3"/><circle cx="8" cy="8" r="3.1" fill="#f2f9ff" stroke="#15608f" stroke-width="2.1"/></svg>
<div class="a t" style="left:886px;top:98px;font-size:14.3px;color:#31363b;">Sync</div>
<div class="a t" style="left:941px;top:98px;font-size:14.3px;color:#31363b;">View</div>
<div class="a" style="left:984px;top:91px;width:56px;height:27px;background:#fff"></div>
<div class="a" style="left:1040px;top:91px;width:17px;height:27px;background:#e6e7e8"></div>
<div class="a t" style="left:987px;top:96px;font-size:14.3px;color:#111;">CPU 0</div>
<svg style="left:1044px;top:102px" width="9" height="6"><path d="M0.5 0.5 H8.5 L4.5 6Z" fill="#222"/></svg>
<div class="a" style="left:735px;top:119px;width:618px;height:336px;background:#fdfdfd"></div>
<div class="a" style="left:1252px;top:119px;width:101px;height:336px;background:#fff;border-left:2px solid #ebebeb"></div>
<div class="a" style="left:1259px;top:123px;width:13px;height:13px;background:#0a14f0;border:1px solid #222"></div>
<div class="a t" style="left:1276px;top:124.5px;font-size:11px;color:#111;">TzCtrl</div>
<div class="a" style="left:1259px;top:139px;width:13px;height:13px;background:#0d2a9a;border:1px solid #222"></div>
<div class="a t" style="left:1276px;top:140.5px;font-size:11px;color:#111;">Philosopher 0</div>
<div class="a" style="left:1259px;top:155px;width:13px;height:13px;background:#0b5c3a;border:1px solid #222"></div>
<div class="a t" style="left:1276px;top:156.5px;font-size:11px;color:#111;">Philosopher 1</div>
<div class="a" style="left:1259px;top:171px;width:13px;height:13px;background:#238c1c;border:1px solid #222"></div>
<div class="a t" style="left:1276px;top:172.5px;font-size:11px;color:#111;">Philosopher 2</div>
<div class="a" style="left:1259px;top:187px;width:13px;height:13px;background:#7cc020;border:1px solid #222"></div>
<div class="a t" style="left:1276px;top:188.5px;font-size:11px;color:#111;">(startup)</div>
<div class="a" style="left:1259px;top:203px;width:13px;height:13px;background:#e0e010;border:1px solid #222"></div>
<div class="a t" style="left:1276px;top:204.5px;font-size:11px;color:#111;">main</div>
<div class="a" style="left:1259px;top:219px;width:13px;height:13px;background:#f7bd05;border:1px solid #222"></div>
<div class="a t" style="left:1276px;top:220.5px;font-size:11px;color:#111;">Philosopher 3</div>
<div class="a" style="left:1259px;top:235px;width:13px;height:13px;background:#e8620a;border:1px solid #222"></div>
<div class="a t" style="left:1276px;top:236.5px;font-size:11px;color:#111;">Philosopher 4</div>
<div class="a" style="left:1259px;top:251px;width:13px;height:13px;background:#f01010;border:1px solid #222"></div>
<div class="a t" style="left:1276px;top:252.5px;font-size:11px;color:#111;">Philosopher 5</div>
<div class="a" style="left:1259px;top:267px;width:13px;height:13px;background:#e81010;border:1px solid #222"></div>
<div class="a t" style="left:1276px;top:268.5px;font-size:11px;color:#111;">Zephyr ISR</div>
<svg style="left:0;top:0" width="1400" height="900"><path d="M838 204.5 H1232" stroke="#c4c4c4" stroke-width="1"/><path d="M838 274.5 H1232" stroke="#c4c4c4" stroke-width="1"/><path d="M838 344.5 H1232" stroke="#c4c4c4" stroke-width="1"/><path d="M913.5 134 V425 M1075.5 134 V425" stroke="#c4c4c4" stroke-width="1"/><path d="M919 134 V415 M1149 134 V415" stroke="#a2a2a2" stroke-width="2"/><rect x="922" y="148.0" width="7" height="8.0" fill="#1030a0"/><rect x="922" y="156.0" width="7" height="40.0" fill="#0b5c3a"/><rect x="922" y="196.0" width="7" height="41.0" fill="#228a1c"/><rect x="922" y="237.0" width="7" height="58.5" fill="#e2e212"/><rect x="922" y="295.5" width="7" height="39.5" fill="#f5b60a"/><rect x="922" y="335.0" width="7" height="35.0" fill="#ec6212"/><rect x="922" y="370.0" width="7" height="44.0" fill="#ee1212"/><rect x="930" y="364.0" width="7" height="7.7" fill="#1030a0"/><rect x="930" y="371.7" width="7" height="7.3" fill="#f5b60a"/><rect x="930" y="379.0" width="7" height="14.0" fill="#ec6212"/><rect x="930" y="393.0" width="7" height="21.0" fill="#ee1212"/><rect x="938" y="367.7" width="7" height="2.3" fill="#1030a0"/><rect x="938" y="370.0" width="7" height="7.0" fill="#228a1c"/><rect x="938" y="377.0" width="7" height="19.8" fill="#f5b60a"/><rect x="938" y="396.8" width="7" height="17.2" fill="#ec6212"/><rect x="945" y="353.0" width="7" height="8.0" fill="#1030a0"/><rect x="945" y="361.0" width="7" height="21.0" fill="#0b5c3a"/><rect x="945" y="382.0" width="7" height="13.7" fill="#228a1c"/><rect x="945" y="395.7" width="7" height="5.9" fill="#f5b60a"/><rect x="945" y="401.6" width="7" height="4.8" fill="#ec6212"/><rect x="945" y="406.4" width="7" height="7.6" fill="#ee1212"/><rect x="953" y="371.0" width="7" height="8.0" fill="#0b5c3a"/><rect x="953" y="379.0" width="7" height="14.0" fill="#228a1c"/><rect x="953" y="393.0" width="7" height="6.7" fill="#f5b60a"/><rect x="953" y="399.7" width="7" height="14.3" fill="#ec6212"/><rect x="961" y="343.0" width="7" height="16.0" fill="#1030a0"/><rect x="961" y="359.0" width="7" height="6.8" fill="#0b5c3a"/><rect x="961" y="365.8" width="7" height="5.9" fill="#228a1c"/><rect x="961" y="371.7" width="7" height="13.9" fill="#f5b60a"/><rect x="961" y="385.6" width="7" height="14.1" fill="#ec6212"/><rect x="961" y="399.7" width="7" height="14.3" fill="#ee1212"/><rect x="969" y="343.0" width="7" height="14.8" fill="#1030a0"/><rect x="969" y="357.8" width="7" height="6.7" fill="#0b5c3a"/><rect x="969" y="364.5" width="7" height="14.5" fill="#228a1c"/><rect x="969" y="379.0" width="7" height="14.0" fill="#f5b60a"/><rect x="969" y="393.0" width="7" height="6.0" fill="#ec6212"/><rect x="969" y="399.0" width="7" height="15.0" fill="#ee1212"/><rect x="977" y="343.0" width="7" height="9.0" fill="#1030a0"/><rect x="977" y="352.0" width="7" height="12.5" fill="#0b5c3a"/><rect x="977" y="364.5" width="7" height="14.5" fill="#228a1c"/><rect x="977" y="379.0" width="7" height="6.6" fill="#f5b60a"/><rect x="977" y="385.6" width="7" height="20.2" fill="#ec6212"/><rect x="977" y="405.8" width="7" height="8.2" fill="#ee1212"/><rect x="985" y="337.0" width="7" height="22.0" fill="#1030a0"/><rect x="985" y="359.0" width="7" height="12.7" fill="#0b5c3a"/><rect x="985" y="371.7" width="7" height="7.3" fill="#228a1c"/><rect x="985" y="379.0" width="7" height="14.0" fill="#f5b60a"/><rect x="985" y="393.0" width="7" height="6.7" fill="#ec6212"/><rect x="985" y="399.7" width="7" height="14.3" fill="#ee1212"/><rect x="992" y="337.0" width="7" height="15.0" fill="#1030a0"/><rect x="992" y="352.0" width="7" height="19.7" fill="#0b5c3a"/><rect x="992" y="371.7" width="7" height="13.9" fill="#228a1c"/><rect x="992" y="385.6" width="7" height="7.4" fill="#ec6212"/><rect x="992" y="393.0" width="7" height="21.0" fill="#ee1212"/><rect x="1000" y="316.0" width="7" height="14.5" fill="#1030a0"/><rect x="1000" y="330.5" width="7" height="14.0" fill="#0b5c3a"/><rect x="1000" y="344.5" width="7" height="14.5" fill="#228a1c"/><rect x="1000" y="359.0" width="7" height="20.0" fill="#f5b60a"/><rect x="1000" y="379.0" width="7" height="20.0" fill="#ec6212"/><rect x="1000" y="399.0" width="7" height="15.0" fill="#ee1212"/><rect x="1008" y="365.0" width="7" height="2.0" fill="#1030a0"/><rect x="1008" y="367.0" width="7" height="6.0" fill="#228a1c"/><rect x="1008" y="373.0" width="7" height="14.0" fill="#f5b60a"/><rect x="1008" y="387.0" width="7" height="12.7" fill="#ec6212"/><rect x="1008" y="399.7" width="7" height="14.3" fill="#ee1212"/><rect x="1016" y="363.0" width="7" height="15.0" fill="#1030a0"/><rect x="1016" y="378.0" width="7" height="6.5" fill="#0b5c3a"/><rect x="1016" y="384.5" width="7" height="14.5" fill="#228a1c"/><rect x="1016" y="399.0" width="7" height="12.7" fill="#f5b60a"/><rect x="1016" y="411.7" width="7" height="2.3" fill="#ec6212"/><rect x="1024" y="281.0" width="7" height="36.0" fill="#1030a0"/><rect x="1024" y="317.0" width="7" height="27.0" fill="#0b5c3a"/><rect x="1024" y="344.0" width="7" height="13.8" fill="#228a1c"/><rect x="1024" y="357.8" width="7" height="7.0" fill="#f5b60a"/><rect x="1024" y="364.8" width="7" height="14.2" fill="#ec6212"/><rect x="1024" y="379.0" width="7" height="35.0" fill="#ee1212"/><rect x="1032" y="384.0" width="7" height="2.0" fill="#1030a0"/><rect x="1032" y="386.0" width="7" height="6.5" fill="#228a1c"/><rect x="1032" y="392.5" width="7" height="14.5" fill="#f5b60a"/><rect x="1032" y="407.0" width="7" height="7.0" fill="#ee1212"/><rect x="1039" y="316.0" width="7" height="7.6" fill="#0b5c3a"/><rect x="1039" y="323.6" width="7" height="21.4" fill="#228a1c"/><rect x="1039" y="345.0" width="7" height="34.0" fill="#f5b60a"/><rect x="1039" y="379.0" width="7" height="35.0" fill="#ec6212"/><rect x="1047" y="329.0" width="7" height="9.0" fill="#1030a0"/><rect x="1047" y="338.0" width="7" height="14.0" fill="#0b5c3a"/><rect x="1047" y="352.0" width="7" height="7.0" fill="#228a1c"/><rect x="1047" y="359.0" width="7" height="20.0" fill="#f5b60a"/><rect x="1047" y="379.0" width="7" height="35.0" fill="#ec6212"/><rect x="1055" y="316.0" width="7" height="15.7" fill="#1030a0"/><rect x="1055" y="331.7" width="7" height="12.8" fill="#0b5c3a"/><rect x="1055" y="344.5" width="7" height="7.5" fill="#228a1c"/><rect x="1055" y="352.0" width="7" height="13.8" fill="#f5b60a"/><rect x="1055" y="365.8" width="7" height="19.8" fill="#ec6212"/><rect x="1055" y="385.6" width="7" height="28.4" fill="#ee1212"/><rect x="1063" y="371.0" width="7" height="1.0" fill="#1030a0"/><rect x="1063" y="372.0" width="7" height="7.0" fill="#f5b60a"/><rect x="1063" y="379.0" width="7" height="14.0" fill="#ec6212"/><rect x="1063" y="393.0" width="7" height="21.0" fill="#ee1212"/><rect x="1071" y="308.8" width="7" height="8.2" fill="#1030a0"/><rect x="1071" y="317.0" width="7" height="34.0" fill="#0b5c3a"/><rect x="1071" y="351.0" width="7" height="34.6" fill="#228a1c"/><rect x="1071" y="385.6" width="7" height="28.4" fill="#f5b60a"/><rect x="1079" y="316.0" width="7" height="15.0" fill="#1030a0"/><rect x="1079" y="331.0" width="7" height="21.0" fill="#0b5c3a"/><rect x="1079" y="352.0" width="7" height="12.8" fill="#228a1c"/><rect x="1079" y="364.8" width="7" height="20.8" fill="#f5b60a"/><rect x="1079" y="385.6" width="7" height="7.4" fill="#ec6212"/><rect x="1079" y="393.0" width="7" height="21.0" fill="#ee1212"/><rect x="1086" y="309.0" width="7" height="15.0" fill="#1030a0"/><rect x="1086" y="324.0" width="7" height="21.0" fill="#0b5c3a"/><rect x="1086" y="345.0" width="7" height="34.0" fill="#228a1c"/><rect x="1086" y="379.0" width="7" height="14.0" fill="#f5b60a"/><rect x="1086" y="393.0" width="7" height="6.7" fill="#ec6212"/><rect x="1086" y="399.7" width="7" height="14.3" fill="#ee1212"/><rect x="1094" y="350.0" width="7" height="15.0" fill="#1030a0"/><rect x="1094" y="365.0" width="7" height="7.0" fill="#228a1c"/><rect x="1094" y="372.0" width="7" height="13.6" fill="#f5b60a"/><rect x="1094" y="385.6" width="7" height="7.4" fill="#ec6212"/><rect x="1094" y="393.0" width="7" height="21.0" fill="#ee1212"/><rect x="1102" y="357.0" width="7" height="8.0" fill="#1030a0"/><rect x="1102" y="365.0" width="7" height="14.0" fill="#0b5c3a"/><rect x="1102" y="379.0" width="7" height="6.6" fill="#228a1c"/><rect x="1102" y="385.6" width="7" height="7.4" fill="#f5b60a"/><rect x="1102" y="393.0" width="7" height="21.0" fill="#ec6212"/><rect x="1110" y="297.0" width="7" height="15.0" fill="#1030a0"/><rect x="1110" y="312.0" width="7" height="14.0" fill="#0b5c3a"/><rect x="1110" y="326.0" width="7" height="6.8" fill="#228a1c"/><rect x="1110" y="332.8" width="7" height="26.2" fill="#f5b60a"/><rect x="1110" y="359.0" width="7" height="40.0" fill="#ec6212"/><rect x="1110" y="399.0" width="7" height="15.0" fill="#ee1212"/><rect x="1118" y="328.0" width="7" height="3.0" fill="#1030a0"/><rect x="1118" y="331.0" width="7" height="6.0" fill="#0b5c3a"/><rect x="1118" y="337.0" width="7" height="13.0" fill="#228a1c"/><rect x="1118" y="350.0" width="7" height="9.0" fill="#f5b60a"/><rect x="1118" y="359.0" width="7" height="20.0" fill="#ec6212"/><rect x="1118" y="379.0" width="7" height="35.0" fill="#ee1212"/><rect x="1126" y="311.0" width="7" height="20.0" fill="#1030a0"/><rect x="1126" y="331.0" width="7" height="13.5" fill="#0b5c3a"/><rect x="1126" y="344.5" width="7" height="20.5" fill="#228a1c"/><rect x="1126" y="365.0" width="7" height="14.0" fill="#f5b60a"/><rect x="1126" y="379.0" width="7" height="20.0" fill="#ec6212"/><rect x="1126" y="399.0" width="7" height="15.0" fill="#ee1212"/><rect x="1133" y="300.0" width="7" height="17.0" fill="#1030a0"/><rect x="1133" y="317.0" width="7" height="21.0" fill="#0b5c3a"/><rect x="1133" y="338.0" width="7" height="19.8" fill="#228a1c"/><rect x="1133" y="357.8" width="7" height="21.2" fill="#f5b60a"/><rect x="1133" y="379.0" width="7" height="13.0" fill="#ec6212"/><rect x="1133" y="392.0" width="7" height="22.0" fill="#ee1212"/><rect x="1141" y="378.0" width="7" height="15.0" fill="#1030a0"/><rect x="1141" y="393.0" width="7" height="7.0" fill="#ec6212"/><rect x="1141" y="400.0" width="7" height="14.0" fill="#ee1212"/><rect x="838.5" y="134.5" width="393" height="280" fill="none" stroke="#111" stroke-width="1"/></svg>
<div class="a t" style="right:821px;top:130.0px;font-size:10.2px;color:#222">40 %</div>
<div class="a t" style="right:821px;top:200.0px;font-size:10.2px;color:#222">30 %</div>
<div class="a t" style="right:821px;top:270.0px;font-size:10.2px;color:#222">20 %</div>
<div class="a t" style="right:821px;top:340.0px;font-size:10.2px;color:#222">10 %</div>
<div class="a t" style="right:821px;top:409.5px;font-size:10.2px;color:#222">0 %</div>
<div class="a t" style="left:914.5px;top:245px;font-size:10.8px;color:#8a8a8a;transform-origin:0 0;transform:rotate(90deg)">Trace Start</div>
<div class="a t" style="left:1164.5px;top:247px;font-size:10.8px;color:#8a8a8a;transform-origin:0 0;transform:rotate(90deg)">Trace End</div>
<div class="a t" style="left:919px;top:421.5px;font-size:11px;color:#222;">0 (µs)</div>
<div class="a t" style="left:1081px;top:421.5px;font-size:10.8px;color:#222;">10.000.000</div>
<svg style="left:741px;top:440px" width="8" height="11"><path d="M7 0.5 V10.5 L1 5.5Z" fill="#222"/></svg>
<div class="a" style="left:753px;top:436px;width:480px;height:17px;background:#7f8386"></div>
<svg style="left:1238px;top:440px" width="8" height="11"><path d="M1 0.5 V10.5 L7 5.5Z" fill="#222"/></svg>
<svg style="left:744px;top:489px" width="40" height="18" viewBox="0 0 40 18">
<circle cx="6.9" cy="6.9" r="5.8" fill="#fff" stroke="#15608f" stroke-width="2.3"/><path d="M11.3 11.3 L15.3 15.3" stroke="#15608f" stroke-width="2.8" stroke-linecap="round"/>
<path d="M3.9 6.9 H9.9 M6.9 3.9 V9.9" stroke="#000" stroke-width="2.6"/>
<circle cx="27" cy="6.9" r="5.8" fill="#fff" stroke="#15608f" stroke-width="2.3"/><path d="M31.4 11.3 L35.4 15.3" stroke="#15608f" stroke-width="2.8" stroke-linecap="round"/>
<path d="M24 6.9 H30" stroke="#000" stroke-width="2.6"/>
</svg>
<div class="a" style="left:784px;top:486px;width:76px;height:26px;background:#e9eaeb"></div>
<div class="a t" style="left:784px;top:486px;width:59px;height:26px;background:#fff;overflow:hidden;font-size:15.2px;color:#111;padding:5.5px 0 0 3.5px">24.334.9</div>
<svg style="left:848px;top:498px" width="9" height="6"><path d="M0.5 0.5 H8.5 L4.5 6Z" fill="#222"/></svg>
<svg style="left:865px;top:490px" width="16" height="16" viewBox="0 0 16 16"><rect x="0" y="0" width="16" height="16" rx="1.8" fill="#15608f"/>
<rect x="2.2" y="2" width="4.6" height="9" fill="#f2f9ff"/><rect x="8.8" y="5" width="5" height="9" fill="#f2f9ff"/></svg>
<div class="a t" style="left:886px;top:491px;font-size:14.3px;color:#31363b;">Sync</div>
<div class="a t" style="left:941px;top:491px;font-size:14.3px;color:#31363b;">View</div>
<div class="a" style="left:984px;top:484px;width:197px;height:28px;background:#fff;border:1px solid #a4a6a8"></div>
<div class="a" style="left:1163px;top:485px;width:17px;height:26px;background:#eceeef;border-left:1px solid #a4a6a8"></div>
<div class="a t" style="left:987px;top:489px;font-size:14.3px;color:#111;">Wait Time</div>
<svg style="left:1167px;top:496px" width="9" height="6"><path d="M0.5 0.5 H8.5 L4.5 6Z" fill="#222"/></svg>
<div class="a" style="left:735px;top:512px;width:618px;height:332px;background:#fdfdfd"></div>
<div class="a" style="left:1252px;top:512px;width:101px;height:332px;background:#fff;border-left:2px solid #ebebeb"></div>
<div class="a" style="left:1259px;top:516px;width:13px;height:13px;background:#fff;border:1px solid #d8d8d8"></div>
<div class="a t" style="left:1276px;top:517.5px;font-size:11px;color:#111;">TzCtrl</div>
<div class="a" style="left:1259px;top:532px;width:13px;height:13px;background:#fff;border:1px solid #d8d8d8"></div>
<div class="a t" style="left:1276px;top:533.5px;font-size:11px;color:#111;">Philosopher 0</div>
<div class="a" style="left:1259px;top:548px;width:13px;height:13px;background:#fff;border:1px solid #d8d8d8"></div>
<div class="a t" style="left:1276px;top:549.5px;font-size:11px;color:#111;">Philosopher 1</div>
<div class="a" style="left:1259px;top:564px;width:13px;height:13px;background:#fff;border:1px solid #d8d8d8"></div>
<div class="a t" style="left:1276px;top:565.5px;font-size:11px;color:#111;">Philosopher 2</div>
<div class="a" style="left:1259px;top:580px;width:13px;height:13px;background:#fff;border:1px solid #d8d8d8"></div>
<div class="a t" style="left:1276px;top:581.5px;font-size:11px;color:#111;">(startup)</div>
<div class="a" style="left:1259px;top:596px;width:13px;height:13px;background:#fff;border:1px solid #d8d8d8"></div>
<div class="a t" style="left:1276px;top:597.5px;font-size:11px;color:#111;">main</div>
<div class="a" style="left:1259px;top:612px;width:13px;height:13px;background:#f7bd05;border:1px solid #222"></div>
<div class="a t" style="left:1276px;top:613.5px;font-size:11px;color:#111;">Philosopher 3</div>
<div class="a" style="left:1259px;top:628px;width:13px;height:13px;background:#fff;border:1px solid #d8d8d8"></div>
<div class="a t" style="left:1276px;top:629.5px;font-size:11px;color:#111;">Philosopher 4</div>
<div class="a" style="left:1259px;top:644px;width:13px;height:13px;background:#fff;border:1px solid #d8d8d8"></div>
<div class="a t" style="left:1276px;top:645.5px;font-size:11px;color:#111;">Philosopher 5</div>
<div class="a" style="left:1259px;top:660px;width:13px;height:13px;background:#fff;border:1px solid #d8d8d8"></div>
<div class="a t" style="left:1276px;top:661.5px;font-size:11px;color:#111;">Zephyr ISR</div>
<svg style="left:0;top:0" width="1400" height="900"><path d="M838 554.5 H1232" stroke="#c4c4c4" stroke-width="1"/><path d="M838 582.5 H1232" stroke="#c4c4c4" stroke-width="1"/><path d="M838 609.5 H1232" stroke="#c4c4c4" stroke-width="1"/><path d="M838 637.5 H1232" stroke="#c4c4c4" stroke-width="1"/><path d="M838 665.5 H1232" stroke="#c4c4c4" stroke-width="1"/><path d="M838 692.5 H1232" stroke="#c4c4c4" stroke-width="1"/><path d="M838 720.5 H1232" stroke="#c4c4c4" stroke-width="1"/><path d="M838 747.5 H1232" stroke="#c4c4c4" stroke-width="1"/><path d="M838 775.5 H1232" stroke="#c4c4c4" stroke-width="1"/><path d="M913.5 527 V814 M1075.5 527 V814" stroke="#c4c4c4" stroke-width="1"/><path d="M919 527 V804 M1149 527 V804" stroke="#a2a2a2" stroke-width="2"/><defs><clipPath id="pc"><rect x="838" y="527" width="394" height="276"/></clipPath></defs><g clip-path="url(#pc)"><rect x="936.5" y="800.5" width="7" height="7" fill="#f5b80a" stroke="#111" stroke-width="1"/><rect x="960.5" y="792.5" width="7" height="7" fill="#f5b80a" stroke="#111" stroke-width="1"/><rect x="984.5" y="792.5" width="7" height="7" fill="#f5b80a" stroke="#111" stroke-width="1"/><rect x="1008.5" y="792.5" width="7" height="7" fill="#f5b80a" stroke="#111" stroke-width="1"/><rect x="998.5" y="772.5" width="7" height="7" fill="#f5b80a" stroke="#111" stroke-width="1"/><rect x="971.5" y="643.5" width="7" height="7" fill="#f5b80a" stroke="#111" stroke-width="1"/><rect x="1046.5" y="661.5" width="7" height="7" fill="#f5b80a" stroke="#111" stroke-width="1"/><rect x="1066.5" y="661.5" width="7" height="7" fill="#f5b80a" stroke="#111" stroke-width="1"/><rect x="1032.5" y="800.5" width="7" height="7" fill="#f5b80a" stroke="#111" stroke-width="1"/><rect x="1038.5" y="800.5" width="7" height="7" fill="#f5b80a" stroke="#111" stroke-width="1"/><rect x="1042.5" y="800.5" width="7" height="7" fill="#f5b80a" stroke="#111" stroke-width="1"/><rect x="1046.5" y="800.5" width="7" height="7" fill="#f5b80a" stroke="#111" stroke-width="1"/><rect x="1059.5" y="774.5" width="7" height="7" fill="#f5b80a" stroke="#111" stroke-width="1"/><rect x="1070.5" y="800.5" width="7" height="7" fill="#f5b80a" stroke="#111" stroke-width="1"/><rect x="1075.5" y="786.5" width="7" height="7" fill="#f5b80a" stroke="#111" stroke-width="1"/><rect x="1086.5" y="783.5" width="7" height="7" fill="#f5b80a" stroke="#111" stroke-width="1"/><rect x="1108.5" y="786.5" width="7" height="7" fill="#f5b80a" stroke="#111" stroke-width="1"/><rect x="1127.5" y="800.5" width="7" height="7" fill="#f5b80a" stroke="#111" stroke-width="1"/><rect x="1137.5" y="800.5" width="7" height="7" fill="#f5b80a" stroke="#111" stroke-width="1"/><circle cx="975" cy="647" r="8" fill="none" stroke="#222" stroke-width="1.2"/></g><rect x="838.5" y="527.5" width="393" height="276" fill="none" stroke="#111" stroke-width="1"/></svg>
<div class="a t" style="right:821px;top:522.5px;font-size:10.8px;color:#222">199.980 ms.µs</div>
<div class="a t" style="right:821px;top:550.0px;font-size:10.8px;color:#222">179.982 ms.µs</div>
<div class="a t" style="right:821px;top:578.0px;font-size:10.8px;color:#222">159.984 ms.µs</div>
<div class="a t" style="right:821px;top:605.0px;font-size:10.8px;color:#222">139.986 ms.µs</div>
<div class="a t" style="right:821px;top:633.0px;font-size:10.8px;color:#222">119.988 ms.µs</div>
<div class="a t" style="right:821px;top:661.0px;font-size:10.8px;color:#222">99.990 ms.µs</div>
<div class="a t" style="right:821px;top:688.0px;font-size:10.8px;color:#222">79.992 ms.µs</div>
<div class="a t" style="right:821px;top:716.0px;font-size:10.8px;color:#222">59.994 ms.µs</div>
<div class="a t" style="right:821px;top:743.0px;font-size:10.8px;color:#222">39.996 ms.µs</div>
<div class="a t" style="right:821px;top:771.0px;font-size:10.8px;color:#222">19.998 ms.µs</div>
<div class="a t" style="right:821px;top:798.5px;font-size:10.8px;color:#222">0 µs</div>
<div class="a t" style="left:914.5px;top:638px;font-size:10.8px;color:#8a8a8a;transform-origin:0 0;transform:rotate(90deg)">Trace Start</div>
<div class="a t" style="left:1164.5px;top:637px;font-size:10.8px;color:#8a8a8a;transform-origin:0 0;transform:rotate(90deg)">Trace End</div>
<div class="a t" style="left:919px;top:811px;font-size:11px;color:#222;">0 (µs)</div>
<div class="a t" style="left:1081px;top:811px;font-size:10.8px;color:#222;">10.000.000</div>
<svg style="left:741px;top:829px" width="8" height="11"><path d="M7 0.5 V10.5 L1 5.5Z" fill="#222"/></svg>
<div class="a" style="left:753px;top:825px;width:480px;height:17px;background:#7f8386"></div>
<svg style="left:1238px;top:829px" width="8" height="11"><path d="M1 0.5 V10.5 L7 5.5Z" fill="#222"/></svg>
<div class="a t" style="left:1368px;top:122px;width:74px;height:28px;border:1px solid #55595d;background:#eff0f1;font-size:11px;color:#31363b;text-align:center;line-height:26px">Previous</div>
<div class="a t" style="left:1454px;top:122px;width:54px;height:28px;border:1px solid #55595d;background:#eff0f1;font-size:11px;color:#31363b;text-align:center;line-height:26px">Clone</div>
<div class="a t" style="left:1521px;top:122px;width:74px;height:28px;border:1px solid #55595d;background:#eff0f1;font-size:11px;color:#31363b;text-align:center;line-height:26px">Next</div>
<div class="a" style="left:1368px;top:156px;width:226px;height:243px;background:#fff;border-top:2px solid #3c4043;border-left:2px solid #3c4043;border-right:1px solid #e8e8e8;border-bottom:1px solid #e8e8e8"></div>
<svg style="left:0;top:0" width="1610" height="900"><path d="M1379.5 169 V330" stroke="#555" stroke-width="1" stroke-dasharray="1 1"/><path d="M1380 168.5 H1389" stroke="#555" stroke-width="1" stroke-dasharray="1 1"/><path d="M1380 186.5 H1389" stroke="#555" stroke-width="1" stroke-dasharray="1 1"/><rect x="1375.5" y="181.5" width="8" height="8" fill="#fff" stroke="#333" stroke-width="1"/><path d="M1377 185.5 H1382 M1379.5 183 V188" stroke="#111" stroke-width="1"/><path d="M1380 204.5 H1389" stroke="#555" stroke-width="1" stroke-dasharray="1 1"/><path d="M1380 222.5 H1389" stroke="#555" stroke-width="1" stroke-dasharray="1 1"/><path d="M1380 240.5 H1389" stroke="#555" stroke-width="1" stroke-dasharray="1 1"/><rect x="1375.5" y="235.5" width="8" height="8" fill="#fff" stroke="#333" stroke-width="1"/><path d="M1377 239.5 H1382 M1379.5 237 V242" stroke="#111" stroke-width="1"/><path d="M1380 258.5 H1389" stroke="#555" stroke-width="1" stroke-dasharray="1 1"/><rect x="1375.5" y="253.5" width="8" height="8" fill="#fff" stroke="#333" stroke-width="1"/><path d="M1377 257.5 H1382 M1379.5 255 V260" stroke="#111" stroke-width="1"/><path d="M1380 276.5 H1389" stroke="#555" stroke-width="1" stroke-dasharray="1 1"/><rect x="1375.5" y="271.5" width="8" height="8" fill="#fff" stroke="#333" stroke-width="1"/><path d="M1377 275.5 H1382 M1379.5 273 V278" stroke="#111" stroke-width="1"/><path d="M1380 294.5 H1389" stroke="#555" stroke-width="1" stroke-dasharray="1 1"/><path d="M1380 312.5 H1389" stroke="#555" stroke-width="1" stroke-dasharray="1 1"/><path d="M1380 330.5 H1389" stroke="#555" stroke-width="1" stroke-dasharray="1 1"/><rect x="1375.5" y="325.5" width="8" height="8" fill="#fff" stroke="#333" stroke-width="1"/><path d="M1377 329.5 H1382 M1379.5 327 V332" stroke="#111" stroke-width="1"/></svg>
<div class="a t" style="left:1391px;top:162.5px;font-size:11px;color:#111;">Philosopher 3</div>
<div class="a t" style="left:1391px;top:180.5px;font-size:11px;color:#111;">Instance: 5/23</div>
<div class="a t" style="left:1391px;top:198.5px;font-size:11px;color:#111;">Triggered by: Zephyr ISR</div>
<div class="a t" style="left:1391px;top:216.5px;font-size:11px;color:#111;">Triggers: None</div>
<div class="a t" style="left:1391px;top:234.5px;font-size:11px;color:#111;">Execution Time: 14.191</div>
<div class="a" style="left:1389px;top:249px;width:126px;height:17px;background:#2f6fd0;outline:1px dotted #1a3a7a"></div>
<div class="a t" style="left:1391px;top:252.5px;font-size:11px;color:#ffffff;">Response Time: 127.747</div>
<div class="a t" style="left:1391px;top:270.5px;font-size:11px;color:#111;">Fragmentation: 3</div>
<div class="a t" style="left:1391px;top:288.5px;font-size:11px;color:#111;">CPU Usage: 2.11%</div>
<div class="a t" style="left:1391px;top:306.5px;font-size:11px;color:#111;">Priority: 0</div>
<div class="a t" style="left:1391px;top:324.5px;font-size:11px;color:#111;">Extended Information</div>
<svg style="left:1389px;top:412px" width="32" height="32" viewBox="0 0 32 32"><rect width="32" height="32" rx="3" fill="#8a8a8a"/>
<rect x="2.5" y="0" width="5" height="16" fill="#c6c6c6"/><rect x="10" y="16" width="5" height="16" fill="#c6c6c6"/><rect x="7" y="11.5" width="13" height="1.5" fill="#c0c0c0"/><rect x="15" y="18.5" width="6" height="1.5" fill="#c0c0c0"/>
<rect x="20.5" y="9.5" width="11.5" height="6.5" fill="#cfcfcf"/><rect x="20.5" y="19" width="11.5" height="5.5" fill="#cfcfcf"/></svg>
<svg style="left:1465px;top:412px" width="32" height="32" viewBox="0 0 32 32"><rect width="32" height="32" rx="3" fill="#8a8a8a"/>
<rect x="4.5" y="0" width="5" height="32" fill="#c6c6c6"/><rect x="9.5" y="11.5" width="8" height="1.5" fill="#c0c0c0"/><rect x="9.5" y="19" width="8" height="1.5" fill="#c0c0c0"/>
<rect x="17" y="9.5" width="15" height="6.5" fill="#cfcfcf"/><rect x="17" y="19" width="15" height="5.5" fill="#cfcfcf"/></svg>
<svg style="left:1542px;top:412px" width="32" height="32" viewBox="0 0 32 32"><rect width="32" height="32" rx="3" fill="#16639e"/><rect x="6" y="0" width="6" height="2.2" fill="#fff"/><rect x="6" y="3.8" width="6" height="2.2" fill="#fff"/><rect x="6" y="10" width="6" height="7.800000000000001" fill="#fff"/><rect x="6" y="19.3" width="6" height="2.1999999999999993" fill="#fff"/><rect x="6" y="26" width="6" height="6" fill="#fff"/><rect x="12" y="1.5" width="6" height="1.7999999999999998" fill="#fff"/><rect x="12" y="5.8" width="6" height="4.1000000000000005" fill="#fff"/><rect x="12" y="18" width="6" height="1.8000000000000007" fill="#fff"/><rect x="12" y="21.8" width="6" height="4.199999999999999" fill="#fff"/>
<rect x="23" y="7.2" width="5" height="9.5" fill="#8cc63f"/><rect x="23" y="20" width="5" height="5.7" fill="#8cc63f"/></svg>
<div class="a t" style="left:1369px;top:520.5px;font-size:11.4px;color:#31363b;">Filter for View</div>
<div class="a" style="left:1448px;top:516px;width:146px;height:21px;background:#fff;border-top:2px solid #3c4043;border-left:2px solid #3c4043;border-bottom:1px solid #e0e0e0"></div>
<div class="a t" style="left:1451px;top:520.5px;font-size:11.2px;color:#111;">Actor Instance Graphs</div>
<div class="a" style="left:1577px;top:517px;width:16px;height:19px;background:#eff0f1;border-right:1px solid #55595d;border-bottom:1px solid #55595d;border-left:1px solid #fff"></div>
<svg style="left:1580px;top:524px" width="9" height="6"><path d="M0.5 0.5 H8.5 L4.5 5.5Z" fill="#111"/></svg>
<div class="a" style="left:1371px;top:547px;width:219px;height:21px;background:#fff;border-top:2px solid #3c4043;border-left:2px solid #3c4043;border-bottom:1px solid #e0e0e0"></div>
<div class="a t" style="left:1374px;top:551.5px;font-size:11.2px;color:#111;">Actors</div>
<div class="a" style="left:1574px;top:548px;width:16px;height:19px;background:#eff0f1;border-right:1px solid #55595d;border-bottom:1px solid #55595d;border-left:1px solid #fff"></div>
<svg style="left:1577px;top:555px" width="9" height="6"><path d="M0.5 0.5 H8.5 L4.5 5.5Z" fill="#111"/></svg>
<div class="a" style="left:1369px;top:585px;width:225px;height:253px;border:1px solid #c4c6c8;box-shadow:inset 1px 1px 0 #fff"></div>
<div class="a" style="left:1375px;top:578px;width:76px;height:14px;background:#eff0f1"></div>
<div class="a t" style="left:1378px;top:579.5px;font-size:11.2px;color:#31363b;">Filter Objects</div>
<div class="a" style="left:1378px;top:602px;width:200px;height:22px;background:#fff;border-top:2px solid #3c4043;border-left:2px solid #3c4043"></div>
<div class="a" style="left:1585px;top:602px;width:8px;height:23px;background:#eff0f1;border-right:1px solid #55595d;border-bottom:1px solid #55595d;border-left:1px solid #fff"></div>
<div class="a" style="left:1378px;top:632px;width:215px;height:165px;background:#fff;border-top:2px solid #3c4043;border-left:2px solid #3c4043"></div>
<svg style="left:0;top:0" width="1610" height="900"><path d="M1388.5 649 V662" stroke="#555" stroke-width="1" stroke-dasharray="1 1"/><rect x="1384.5" y="640.5" width="8" height="8" fill="#fff" stroke="#333"/><path d="M1386 644.5 H1391 M1388.5 642 V647" stroke="#111"/><path d="M1393 645.5 H1398" stroke="#555" stroke-dasharray="1 1"/><rect x="1384.5" y="660.5" width="8" height="8" fill="#fff" stroke="#333"/><path d="M1386 664.5 H1391 M1388.5 662 V667" stroke="#111"/><path d="M1393 665.5 H1398" stroke="#555" stroke-dasharray="1 1"/><rect x="1399.5" y="635.5" width="13" height="13" fill="#fff" stroke="#d0d0d0"/><rect x="1402" y="638" width="8" height="8" fill="#a8a8a8"/><rect x="1399.5" y="655.5" width="13" height="13" fill="#fff" stroke="#e0e0e0"/></svg>
<div class="a t" style="left:1419px;top:639.5px;font-size:11.2px;color:#111;">Tasks</div>
<div class="a t" style="left:1419px;top:659.5px;font-size:11.2px;color:#111;">ISRs</div>
<div class="a t" style="left:1374px;top:808px;width:114px;height:25px;border-top:1px solid #fff;border-left:1px solid #fff;border-right:2px solid #3c4043;border-bottom:2px solid #3c4043;background:#eff0f1;font-size:11px;color:#31363b;text-align:center;line-height:23px">Enable All</div>
<div class="a t" style="left:1494px;top:808px;width:99px;height:25px;border-top:1px solid #fff;border-left:1px solid #fff;border-bottom:2px solid #3c4043;background:#eff0f1;text-indent:15px;font-size:11px;color:#31363b;text-align:center;line-height:23px">Disable All</div>
<svg style="left:76px;top:101px" width="10" height="6"><circle cx="2.5" cy="3" r="2" fill="#1a6aa6"/><circle cx="7.5" cy="3" r="2" fill="#1a6aa6"/></svg>
<svg style="left:42px;top:126px" width="34" height="130" viewBox="0 0 34 130">
<circle cx="17" cy="17" r="14.5" fill="#fff" stroke="#b8141e" stroke-width="4"/><circle cx="17" cy="17" r="8" fill="#b8141e"/>
<defs><linearGradient id="gg" x1="0" y1="0" x2="0" y2="1"><stop offset="0" stop-color="#8a8c8e"/><stop offset="1" stop-color="#4a4c4e"/></linearGradient></defs>
<circle cx="17" cy="65" r="14.5" fill="#fff" stroke="url(#gg)" stroke-width="4"/><rect x="11" y="59" width="12" height="12" rx="1.5" fill="#666a6e"/>
<circle cx="17" cy="113" r="16.5" fill="#b8141e"/>
<path d="M8.5 108 H13 L14.5 105.5 H19.5 L21 108 H25.5 V121 H8.5 Z" fill="#fff"/><circle cx="17" cy="114" r="4.2" fill="#b8141e"/><circle cx="17" cy="114" r="2.6" fill="#fff"/>
</svg>
<div class="a" style="left:38px;top:266px;width:38px;height:1px;background:#c2c4c6"></div>
<div class="a" style="left:38px;top:755px;width:38px;height:1px;background:#c2c4c6"></div>
<svg style="left:42px;top:778px" width="34" height="11"><circle cx="5" cy="5.5" r="4" fill="#1a6aa6"/><circle cx="17" cy="5.5" r="4" fill="#1a6aa6"/><circle cx="29" cy="5.5" r="4" fill="#1a6aa6"/></svg>
<svg style="left:0;top:0" width="1" height="1"><defs><linearGradient id="navg" x1="0" y1="0" x2="0" y2="1"><stop offset="0" stop-color="#2a7cb8"/><stop offset="1" stop-color="#19629c"/></linearGradient></defs></svg>
<svg style="left:43px;top:279px" width="32" height="32" viewBox="0 0 32 32"><rect width="32" height="32" rx="3.5" fill="url(#navg)"/><text x="2" y="9.5" font-family="Liberation Sans" font-size="10" fill="#fff">Stream</text><path d="M6.5 12 V27.5 H28" fill="none" stroke="#fff" stroke-width="1.6"/><path d="M8 17 L11 25 L14 15 L17 24 L20 16 L23 24 L26 16" fill="none" stroke="#fff" stroke-width="1.6"/></svg>
<svg style="left:43px;top:327px" width="32" height="32" viewBox="0 0 32 32"><rect width="32" height="32" rx="3.5" fill="url(#navg)"/><rect x="8" y="0" width="8" height="2.2" fill="#fff"/><rect x="8" y="3.8" width="8" height="2.2" fill="#fff"/><rect x="8" y="10" width="8" height="7.800000000000001" fill="#fff"/><rect x="8" y="19.3" width="8" height="2.1999999999999993" fill="#fff"/><rect x="8" y="26" width="8" height="6" fill="#fff"/><rect x="16" y="1.5" width="8" height="1.7999999999999998" fill="#fff"/><rect x="16" y="5.8" width="8" height="4.1000000000000005" fill="#fff"/><rect x="16" y="18" width="8" height="1.8000000000000007" fill="#fff"/><rect x="16" y="21.8" width="8" height="4.199999999999999" fill="#fff"/></svg>
<svg style="left:43px;top:375px" width="32" height="32" viewBox="0 0 32 32"><defs><clipPath id="cc"><rect width="32" height="32" rx="3.5"/></clipPath></defs><g clip-path="url(#cc)"><rect width="32" height="32" fill="url(#navg)"/><path d="M0 32 V17 L3 18 L3 14 L6 15 L6 19 L9 18 L9 21 L12 20 L12 16 L15 17 L15 20 L18 19 L18 14 L21 15 L21 18 L24 17 L24 12 L27 13 L27 17 L30 16 L30 10 L32 10 V32Z" fill="#8cc63f"/><path d="M0 32 V25 L4 24 L4 27 L8 26 L8 23 L12 24 L12 26 L16 25 L16 23 L20 24 L20 22 L24 23 L24 26 L28 25 L28 22 L32 22 V32Z" fill="#e8e800"/></g><text x="2" y="9.5" font-family="Liberation Sans" font-size="10" fill="#fff">CPU</text></svg>
<svg style="left:43px;top:423px" width="32" height="32" viewBox="0 0 32 32"><rect width="32" height="32" rx="3.5" fill="url(#navg)"/><text x="2" y="9.5" font-family="Liberation Sans" font-size="10" fill="#fff">UsrEvt</text><path d="M6.5 12 V27.5 H28" fill="none" stroke="#fff" stroke-width="1.6"/><path d="M8 17 L11 25 L14 15 L17 24 L20 16 L23 24 L26 16" fill="none" stroke="#fff" stroke-width="1.6"/></svg>
<svg style="left:43px;top:471px" width="32" height="32" viewBox="0 0 32 32"><rect width="32" height="32" rx="3.5" fill="url(#navg)"/><text x="2" y="9.5" font-family="Liberation Sans" font-size="10" fill="#fff">Actor</text><path d="M6.5 12 V27.5 H28" fill="none" stroke="#fff" stroke-width="1.6"/><path d="M8 17 L11 25 L14 15 L17 24 L20 16 L23 24 L26 16" fill="none" stroke="#fff" stroke-width="1.6"/></svg>
<svg style="left:43px;top:519px" width="32" height="32" viewBox="0 0 32 32"><rect width="32" height="32" rx="3.5" fill="url(#navg)"/><text x="2" y="9.5" font-family="Liberation Sans" font-size="10" fill="#fff">CF</text><rect x="2" y="13.5" width="11" height="5.5" fill="#fff"/><path d="M15.5 16 L20 6.5 M15.5 16 L20 16 M15.5 16 L20 25" stroke="#fff" stroke-width="1.6"/><circle cx="15.5" cy="16" r="2.8" fill="#1f6ea8" stroke="#fff" stroke-width="1.6"/><rect x="19" y="4" width="11" height="5" fill="#fff"/><rect x="19" y="13" width="11" height="5.5" fill="#fff"/><rect x="19" y="22" width="11" height="5.5" fill="#fff"/></svg>
<svg style="left:43px;top:567px" width="32" height="32" viewBox="0 0 32 32"><rect width="32" height="32" rx="3.5" fill="url(#navg)"/><text x="2" y="9.5" font-family="Liberation Sans" font-size="10" fill="#fff">Events</text><g fill="#fff"><rect x="5" y="13" width="3" height="2.4"/><rect x="10" y="13" width="18" height="2.4"/><rect x="5" y="17.5" width="3" height="2.4"/><rect x="10" y="17.5" width="18" height="2.4"/><rect x="5" y="22" width="3" height="2.4"/><rect x="10" y="22" width="18" height="2.4"/><rect x="5" y="26.5" width="3" height="2.4"/><rect x="10" y="26.5" width="18" height="2.4"/></g></svg>
<svg style="left:43px;top:615px" width="32" height="32" viewBox="0 0 32 32"><rect width="32" height="32" rx="3.5" fill="url(#navg)"/><rect x="6" y="0" width="6" height="2.2" fill="#fff"/><rect x="6" y="3.8" width="6" height="2.2" fill="#fff"/><rect x="6" y="10" width="6" height="7.800000000000001" fill="#fff"/><rect x="6" y="19.3" width="6" height="2.1999999999999993" fill="#fff"/><rect x="6" y="26" width="6" height="6" fill="#fff"/><rect x="12" y="1.5" width="6" height="1.7999999999999998" fill="#fff"/><rect x="12" y="5.8" width="6" height="4.1000000000000005" fill="#fff"/><rect x="12" y="18" width="6" height="1.8000000000000007" fill="#fff"/><rect x="12" y="21.8" width="6" height="4.199999999999999" fill="#fff"/><rect x="23" y="7.2" width="5" height="9.5" fill="#8cc63f"/><rect x="23" y="20" width="5" height="5.7" fill="#8cc63f"/></svg>
<svg style="left:43px;top:663px" width="32" height="32" viewBox="0 0 32 32"><rect width="32" height="32" rx="3.5" fill="url(#navg)"/><text x="2" y="9.5" font-family="Liberation Sans" font-size="10" fill="#fff">SM</text><rect x="2" y="13.5" width="11" height="5.5" fill="#fff"/><path d="M15.5 16 L20 6.5 M15.5 16 L20 16 M15.5 16 L20 25" stroke="#fff" stroke-width="1.6"/><circle cx="15.5" cy="16" r="2.8" fill="#1f6ea8" stroke="#fff" stroke-width="1.6"/><rect x="19" y="4" width="11" height="5" fill="#fff"/><rect x="19" y="13" width="11" height="5.5" fill="#fff"/><rect x="19" y="22" width="11" height="5.5" fill="#fff"/></svg>
<svg style="left:43px;top:711px" width="32" height="32" viewBox="0 0 32 32"><rect width="32" height="32" rx="3.5" fill="url(#navg)"/><text x="2" y="9.5" font-family="Liberation Sans" font-size="10" fill="#fff">MEM</text><path d="M6.5 12 V27.5 H28" fill="none" stroke="#fff" stroke-width="1.6"/><path d="M8 17 L11 25 L14 15 L17 24 L20 16 L23 24 L26 16" fill="none" stroke="#fff" stroke-width="1.6"/></svg>
</body></html>
